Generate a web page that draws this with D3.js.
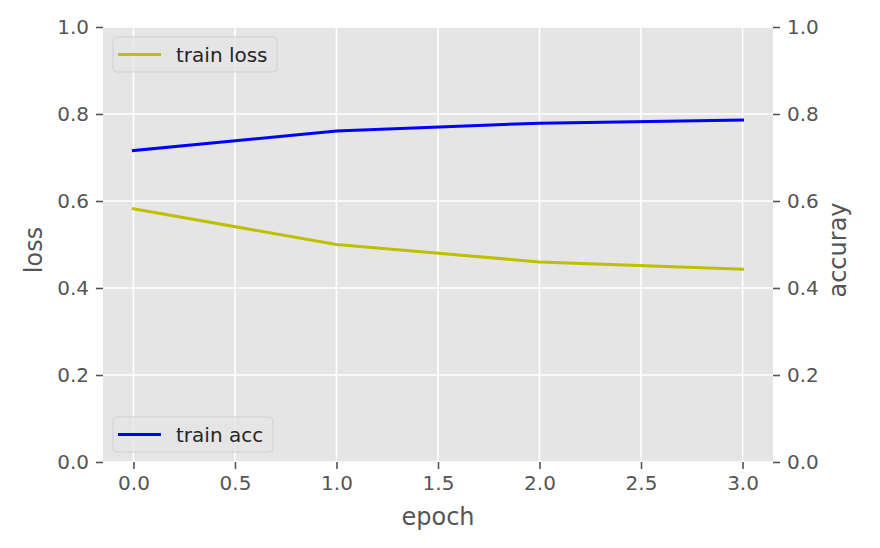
<!DOCTYPE html>
<html>
<head>
<meta charset="utf-8">
<script src="https://cdn.jsdelivr.net/npm/d3@7"></script>
<style>
  html, body { margin: 0; padding: 0; background: #fff; }
  svg { display: block; font-family: "DejaVu Sans", sans-serif; }
</style>
</head>
<body>
<svg id="chart" width="880" height="548"></svg>
<script>
// ---- data ----
const epochs = [0, 1, 2, 3];
const trainLoss = [0.582, 0.500, 0.460, 0.443];
const trainAcc = [0.716, 0.761, 0.779, 0.786];
const xTicks = [0.0, 0.5, 1.0, 1.5, 2.0, 2.5, 3.0];
const yTicks = [0.0, 0.2, 0.4, 0.6, 0.8, 1.0];

const svg = d3.select("#chart");
const L = 103, R = 773, T = 27, B = 462;

const x = d3.scaleLinear().domain([-0.15, 3.15]).range([L, R]);
const yL = d3.scaleLinear().domain([0, 1]).range([B, T]);
const yR = d3.scaleLinear().domain([0, 1]).range([B, T]);

// background
svg.append("rect").attr("x", L).attr("y", T).attr("width", R - L).attr("height", B - T).attr("fill", "#E5E5E5");

// grid
const grid = svg.append("g");
grid.selectAll(".gx").data(xTicks).enter().append("line")
  .attr("x1", d => x(d)).attr("x2", d => x(d)).attr("y1", T).attr("y2", B)
  .attr("stroke", "#fff").attr("stroke-width", 1.6);
grid.selectAll(".gy").data(yTicks).enter().append("line")
  .attr("x1", L).attr("x2", R).attr("y1", d => yL(d)).attr("y2", d => yL(d))
  .attr("stroke", "#fff").attr("stroke-width", 1.6);

// axes
function styleAxis(g) {
  g.select(".domain").remove();
  g.selectAll(".tick line").attr("stroke", "#555555").attr("stroke-width", 1.6);
  g.selectAll(".tick text").attr("fill", "#555555").style("font-size", "20px").style("font-family", "DejaVu Sans");
}
const fmt = d3.format(".1f");
svg.append("g").attr("transform", `translate(0,${B})`)
  .call(d3.axisBottom(x).tickValues(xTicks).tickFormat(fmt).tickSize(7).tickPadding(7))
  .call(styleAxis);
svg.append("g").attr("transform", `translate(${L},0)`)
  .call(d3.axisLeft(yL).tickValues(yTicks).tickFormat(fmt).tickSize(7).tickPadding(7))
  .call(styleAxis);
svg.append("g").attr("transform", `translate(${R},0)`)
  .call(d3.axisRight(yR).tickValues(yTicks).tickFormat(fmt).tickSize(7).tickPadding(7))
  .call(styleAxis);

// axis labels
svg.append("text").attr("x", (L + R) / 2).attr("y", 525).attr("text-anchor", "middle")
  .attr("fill", "#555555").style("font-size", "24px").text("epoch");
svg.append("text").attr("transform", `translate(42,250) rotate(-90)`).attr("text-anchor", "middle")
  .attr("fill", "#555555").style("font-size", "24px").text("loss");
svg.append("text").attr("transform", `translate(846,250) rotate(-90)`).attr("text-anchor", "middle")
  .attr("fill", "#555555").style("font-size", "24px").text("accuray");

// lines
const lossLine = d3.line().x((d, i) => x(epochs[i])).y(d => yL(d));
const accLine = d3.line().x((d, i) => x(epochs[i])).y(d => yR(d));
svg.append("path").datum(trainLoss).attr("d", lossLine).attr("fill", "none")
  .attr("stroke", "#bfbf00").attr("stroke-width", 3).attr("stroke-linecap", "square");

// legend helper
function legend(x0, y0, w, h, color, label) {
  const g = svg.append("g");
  g.append("rect").attr("x", x0).attr("y", y0).attr("width", w).attr("height", h)
    .attr("rx", 4).attr("fill", "#E5E5E5").attr("fill-opacity", 0.8)
    .attr("stroke", "#cccccc").attr("stroke-opacity", 0.8).attr("stroke-width", 1);
  g.append("line").attr("x1", x0 + 5).attr("x2", x0 + 48).attr("y1", y0 + h / 2).attr("y2", y0 + h / 2)
    .attr("stroke", color).attr("stroke-width", 3);
  g.append("text").attr("x", x0 + 63).attr("y", y0 + h / 2 + 7.5).attr("fill", "#262626")
    .style("font-size", "20px").text(label);
}
legend(113, 37, 164, 35, "#bfbf00", "train loss");

svg.append("path").datum(trainAcc).attr("d", accLine).attr("fill", "none")
  .attr("stroke", "#0000ff").attr("stroke-width", 3).attr("stroke-linecap", "square");
legend(113, 417, 160, 35, "#0000ff", "train acc");
</script>
</body>
</html>
